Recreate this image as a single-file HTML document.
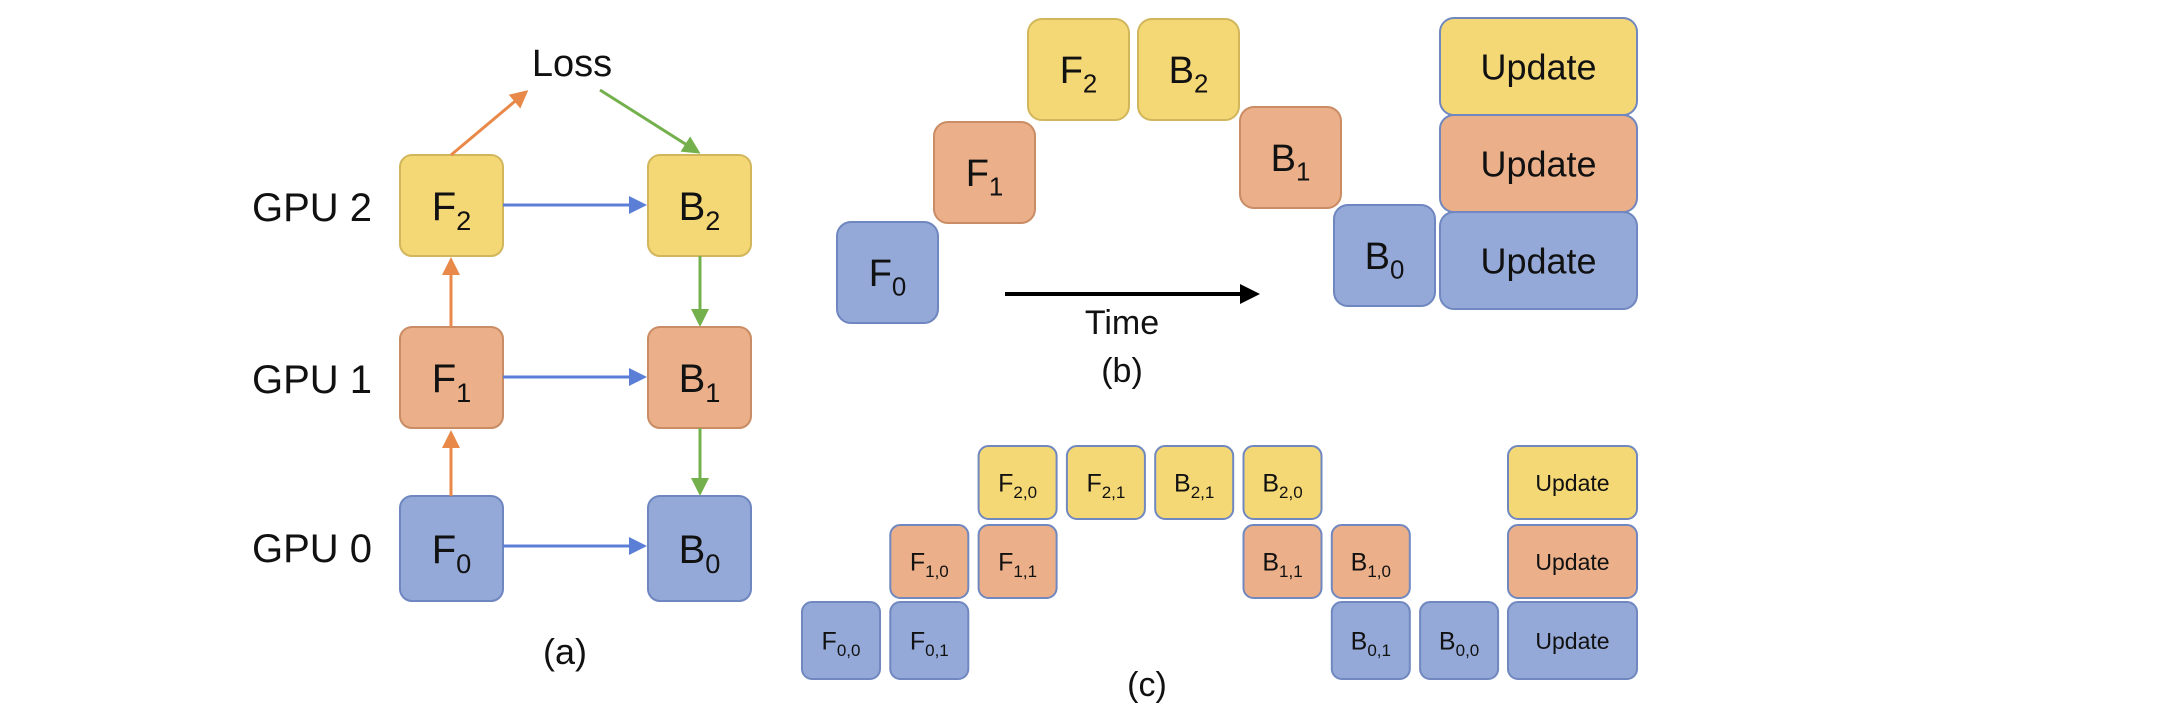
<!DOCTYPE html>
<html><head><meta charset="utf-8"><style>
html,body{margin:0;padding:0;background:#fff;}
svg{display:block;font-family:"Liberation Sans",sans-serif;}
</style></head><body>
<svg id="fig" width="2172" height="714" viewBox="0 0 2172 714" xmlns="http://www.w3.org/2000/svg">
<defs>
<marker id="ao" markerWidth="6" markerHeight="6" refX="5" refY="3" orient="auto" markerUnits="strokeWidth"><path d="M0,0 L6,3 L0,6 z" fill="#e8894a"/></marker>
<marker id="ag" markerWidth="6" markerHeight="6" refX="5" refY="3" orient="auto" markerUnits="strokeWidth"><path d="M0,0 L6,3 L0,6 z" fill="#74b04c"/></marker>
<marker id="ab" markerWidth="6" markerHeight="6" refX="5" refY="3" orient="auto" markerUnits="strokeWidth"><path d="M0,0 L6,3 L0,6 z" fill="#5b7fd6"/></marker>
<marker id="ak" markerWidth="5" markerHeight="5" refX="4" refY="2.5" orient="auto" markerUnits="strokeWidth"><path d="M0,0 L5,2.5 L0,5 z" fill="#000"/></marker>
</defs>
<g id="pa"></g>
<g id="pb"></g>
<g id="pc"></g>
</svg>
<script>
const NS="http://www.w3.org/2000/svg";
const fills=["#94a9d8","#ebb089","#f5d876"];
const strokes=["#6f87c0","#c98c64","#d2b65c"];
function el(p,tag,attrs){const e=document.createElementNS(NS,tag);for(const k in attrs)e.setAttribute(k,attrs[k]);p.appendChild(e);return e;}
function box(p,name,x,y,w,h,gpu,main,sub,fs,r,strokeCol){
  const g=el(p,'g',{});
  
  
  el(g,'rect',{x:x,y:y,width:w,height:h,rx:r,ry:r,fill:fills[gpu],stroke:strokeCol||strokes[gpu],'stroke-width':2});
  const t=el(g,'text',{x:x+w/2,y:y+h/2+fs*0.36,'text-anchor':'middle','font-size':fs,fill:'#111'});
  t.appendChild(document.createTextNode(main));
  if(sub!==''){const s=el(t,'tspan',{'font-size':fs*0.68,dy:fs*0.25});s.textContent=sub;}
  return g;
}
function text(p,name,x,y,s,fs){const t=el(p,'text',{x:x,y:y,'text-anchor':'middle','font-size':fs,fill:'#111'});t.textContent=s;return t;}
function line(p,name,x1,y1,x2,y2,col,mk,w){const l=el(p,'line',{x1:x1,y1:y1,x2:x2,y2:y2,stroke:col,'stroke-width':w||3,'marker-end':'url(#'+mk+')'});}

// Panel (a)
const pa=document.getElementById('pa');
const aRowsY=[496,327,155];
const gpuLabels=["GPU 0","GPU 1","GPU 2"];
for(let i=0;i<3;i++){
  text(pa,'gpu-'+i+'-label',312,aRowsY[i]+66,gpuLabels[i],40);
  box(pa,'forward-f'+i,400,aRowsY[i],103,i==0?105:101,i,'F',String(i),40,12);
  box(pa,'backward-b'+i,648,aRowsY[i],103,i==0?105:101,i,'B',String(i),40,12);
  line(pa,'activation-arrow-'+i,503,aRowsY[i]+50,644,aRowsY[i]+50,'#5b7fd6','ab',3);
}
line(pa,'forward-arrow-0-1',451,496,451,433,'#e8894a','ao',3);
line(pa,'forward-arrow-1-2',451,327,451,260,'#e8894a','ao',3);
line(pa,'grad-arrow-2-1',700,256,700,324,'#74b04c','ag',3);
line(pa,'grad-arrow-1-0',700,428,700,493,'#74b04c','ag',3);
line(pa,'loss-in-arrow',451,155,526,92,'#e8894a','ao',3);
line(pa,'loss-out-arrow',600,90,698,152,'#74b04c','ag',3);
text(pa,'loss-label',572,76,'Loss',38);
text(pa,'panel-a-caption',565,664,'(a)',36);

// Panel (b)
const pb=document.getElementById('pb');
const bLabels=["F","F","F","B","B","B"];
const bSubs=["0","1","2","2","1","0"];
const bGpu=[0,1,2,2,1,0];
const bX=[837,934,1028,1138,1240,1334];
const bY=[222,122,19,19,107,205];
for(let i=0;i<6;i++){
  box(pb,'b-'+bLabels[i].toLowerCase()+bSubs[i],bX[i],bY[i],101,101,bGpu[i],bLabels[i],bSubs[i],38,14);
}
const upY=[212,115,18];
for(let i=0;i<3;i++) box(pb,'b-update-gpu'+i,1440,upY[i],197,97,i,'Update','',36,14,'#7088bf');
line(pb,'time-arrow',1005,294,1256,294,'#000','ak',4);
text(pb,'time-label',1122,334,'Time',34);
text(pb,'panel-b-caption',1122,382,'(b)',34);

// Panel (c)
const pc=document.getElementById('pc');
const cLabels=["F","F","F","F","F","F","B","B","B","B","B","B"];
const cSubs=["0,0","0,1","1,0","1,1","2,0","2,1","2,1","2,0","1,1","1,0","0,1","0,0"];
const cCol=[0,1,1,2,2,3,4,5,5,6,6,7];
const cRow=[0,0,1,1,2,2,2,2,1,1,0,0];
const cRowY=[602,525,446];
function cx(c){return 802+c*88.3;}
for(let i=0;i<12;i++){
  box(pc,'c-'+cLabels[i].toLowerCase()+cSubs[i].replace(',','-'),cx(cCol[i]),cRowY[cRow[i]],78,i<2||i>9?77:73,cRow[i],cLabels[i],cSubs[i],25,10,'#7088bf');
}
for(let i=0;i<3;i++) box(pc,'c-update-gpu'+i,1508,cRowY[i],129,i==0?77:73,i,'Update','',23,10,'#7088bf');
text(pc,'panel-c-caption',1147,696,'(c)',34);
</script>
</body></html>
